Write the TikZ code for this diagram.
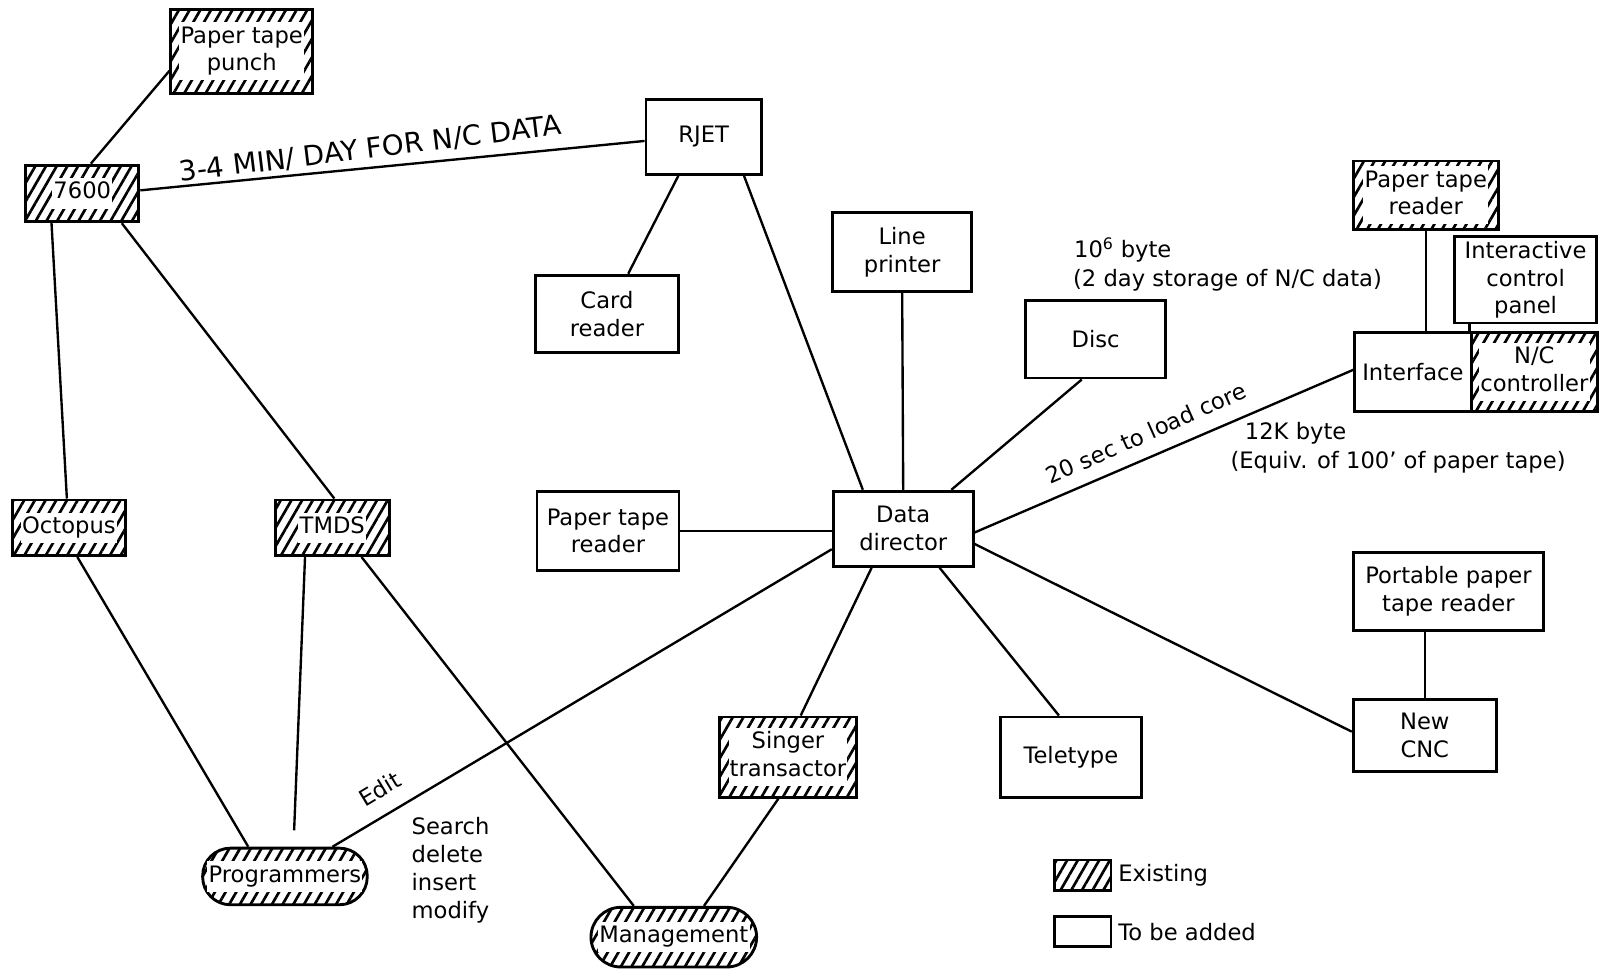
\documentclass[tikz,border=0pt]{standalone}
\usepackage{fontspec}
\setmainfont{DejaVu Sans}
\usetikzlibrary{patterns.meta}
\newcommand{\wb}[1]{{\setlength{\fboxsep}{1.2pt}\colorbox{white}{\begin{tabular}{@{}c@{}}#1\end{tabular}}}}
\newcommand{\bxfont}{\fontsize{22}{27}\selectfont}
\tikzset{
  box/.style={draw, line width=2.8pt, rectangle, align=center, inner sep=0pt, font=\bxfont},
  ex/.style={box, pattern={Lines[angle=60,distance=9pt,line width=2.6pt]}},
  wire/.style={line width=2.3pt},
  lbl/.style={inner sep=0pt, font=\bxfont, align=left}
}
\begin{document}
\begin{tikzpicture}[x=1pt,y=-1pt]
\useasboundingbox[fill=white] (0,0) rectangle (1568,941);
% nodes
\node[ex, minimum width=138pt, minimum height=82pt] (punch) at (235,50) {\wb{Paper tape\\punch}};
\node[ex, minimum width=110pt, minimum height=55pt] (n7600) at (80,188) {\wb{7600}};
\node[box, minimum width=112pt, minimum height=73pt] (rjet) at (684,133) {RJET};
\node[box, minimum width=139pt, minimum height=75pt] (card) at (590,305) {Card\\reader};
\node[box, minimum width=135pt, minimum height=76pt] (lp) at (877,245) {Line\\printer};
\node[box, minimum width=136pt, minimum height=75pt] (disc) at (1065,330) {Disc};
\node[ex, minimum width=141pt, minimum height=67pt] (ptrB) at (1386,190) {\wb{Paper tape\\reader}};
\node[box, minimum width=138pt, minimum height=84pt] (icp) at (1483,272) {Interactive\\control\\panel};
\node[box, minimum width=113pt, minimum height=77pt] (iface) at (1373.5,361.5) {Interface};
\node[ex, minimum width=123pt, minimum height=77pt] (ncc) at (1491.5,361.5) {\wb{N/C\\controller}};
\node[box, minimum width=138pt, minimum height=77pt] (ptrA) at (591,516) {Paper tape\\reader};
\node[box, minimum width=136pt, minimum height=73pt] (dd) at (878,514) {Data\\director};
\node[box, minimum width=184pt, minimum height=76pt] (port) at (1408,575) {Portable paper\\tape reader};
\node[box, minimum width=139pt, minimum height=70pt] (cnc) at (1385,715) {New\\CNC};
\node[box, minimum width=137pt, minimum height=78pt] (tty) at (1041,736) {Teletype};
\node[ex, minimum width=134pt, minimum height=78pt] (singer) at (766,736) {\wb{Singer\\transactor}};
\node[ex, rounded corners=27pt, minimum width=160pt, minimum height=55pt] (prog) at (277,852) {\wb{Programmers}};
\node[ex, rounded corners=29pt, minimum width=161pt, minimum height=58pt] (mgmt) at (655,911) {\wb{Management}};
\node[ex, minimum width=110pt, minimum height=54pt] (octo) at (67,513) {\wb{Octopus}};
\node[ex, minimum width=111pt, minimum height=54pt] (tmds) at (323,513) {\wb{TMDS}};
% connectors
\draw[wire] (n7600.74) -- (punch.195);
\draw[wire] (n7600.3) -- (rjet.184);
\draw[wire] (n7600.224) -- (octo.94);
\draw[wire] (n7600.323) -- (tmds.86);
\draw[wire] (octo.286) -- (prog.141);
\draw[wire, shorten >=16pt] (tmds.227) -- (prog.74);
\draw[wire] (tmds.315) -- (mgmt.142);
\draw[wire] (prog.32) -- (dd.196);
\draw[wire] (singer.257) -- (mgmt.46);
\draw[wire] (dd.231) -- (singer.73);
\draw[wire] (rjet.237) -- (card.62);
\draw[wire] (rjet.316) -- (dd.136);
\draw[wire] (lp.south) -- (dd.north);
\draw[wire] (disc.251) -- (dd.39);
\draw[wire] (dd.357) -- (iface.178);
\draw[wire] (ptrA.east) -- (ptrA.east -| dd.west);
\draw[wire] (dd.313) -- (tty.106);
\draw[wire] (dd.348) -- (cnc.177);
\draw[wire] (cnc.north |- port.south) -- (cnc.north);
\draw[wire] (ptrB.south) -- (ptrB.south |- iface.north);
\draw[wire] (ncc.north west) -- (ncc.north west |- icp.south);
% labels
\node[lbl, rotate=7, font=\fontsize{27}{30}\selectfont] (l1) at (360,145) {3-4 MIN/ DAY FOR N/C DATA};
\node[lbl, rotate=31] (ledit) at (369,767) {Edit};
\node[lbl, anchor=west] (lsearch) at (400,846) {Search\\delete\\insert\\modify};
\node[lbl, rotate=24] (lload) at (1114,421) {20 sec to load core};
\node[lbl, anchor=west] (l10) at (1044,243) {10\textsuperscript{6} byte};
\node[lbl, anchor=west] (l2day) at (1043,272) {(2 day storage of N/C data)};
\node[lbl, anchor=west] (l12k) at (1210,421) {12K byte};
\node[lbl, anchor=west] (lequiv) at (1196,449) {(Equiv. of 100' of paper tape)};
% legend
\node[ex, minimum width=55pt, minimum height=30pt] (legex) at (1052.5,851) {};
\node[lbl, anchor=west] (legext) at (1087,851) {Existing};
\node[box, minimum width=55pt, minimum height=29pt] (legnew) at (1052.5,905.5) {};
\node[lbl, anchor=west] (legnewt) at (1087,906) {To be added};
\end{tikzpicture}
\end{document}
